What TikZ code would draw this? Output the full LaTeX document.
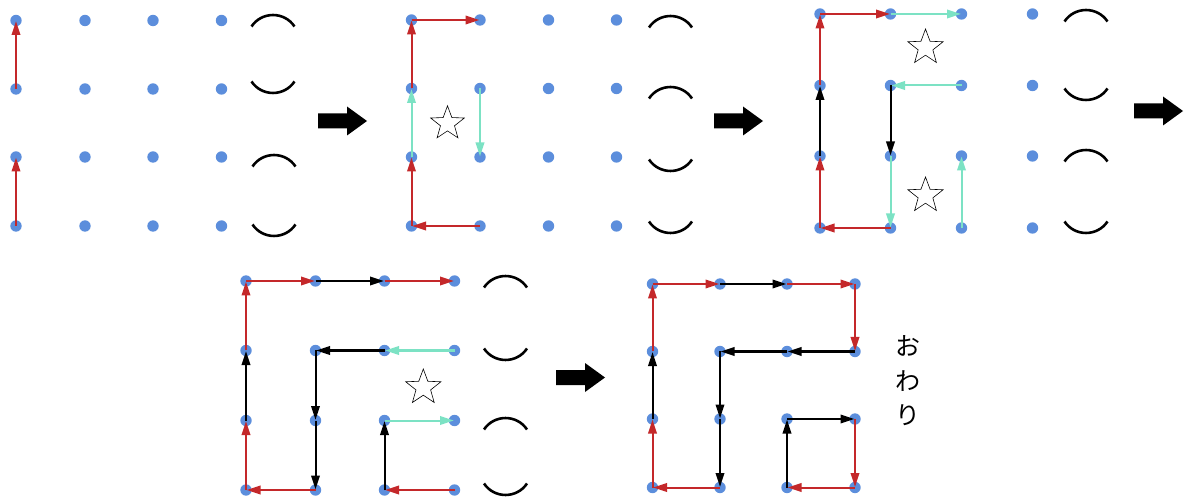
\documentclass[tikz,border=0pt]{standalone}
\usepackage{fontspec}
\newfontfamily\cjk{Noto Sans CJK JP}
\usetikzlibrary{arrows.meta,shapes.geometric}
\definecolor{dotblue}{RGB}{92,142,220}
\definecolor{pathred}{RGB}{196,40,42}
\definecolor{pathteal}{RGB}{124,226,196}
\tikzset{
  dot/.style={circle,fill=dotblue,inner sep=0pt,minimum size=11.4pt},
  con/.style={-{Triangle[length=14pt,width=8.5pt]},line width=2pt,shorten >=0.5pt},
  rc/.style={con,draw=pathred,fill=pathred},
  tc/.style={con,draw=pathteal,fill=pathteal},
  bc/.style={con,draw=black,fill=black},
  arcline/.style={draw=black,line width=2.6pt},
  starmark/.style={star,star points=5,star point ratio=2.4,draw=black,line width=0.6pt,inner sep=0pt},
}
\newcommand\dotgrid[3]{%
  \foreach \xx [count=\ii] in {#2} {%
    \foreach \yy [count=\jj] in {#3} {%
      \node[dot] (#1-\ii-\jj) at (\xx,\yy) {};
    }%
  }%
}
\newcommand\capn[2]{\draw[arcline] ({#1-21.5},{#2}) .. controls ({#1-11.3},{#2-15.3}) and ({#1+11.3},{#2-15.3}) .. ({#1+21.5},{#2});}
\newcommand\cupn[2]{\draw[arcline] ({#1-21.5},{#2}) .. controls ({#1-11.3},{#2+15.3}) and ({#1+11.3},{#2+15.3}) .. ({#1+21.5},{#2});}
\newcommand\bigarrow[2]{\fill[black] ({#1},{#2-7.5}) -- ({#1+29},{#2-7.5}) -- ({#1+29},{#2-14.5}) -- ({#1+49},{#2}) -- ({#1+29},{#2+14.5}) -- ({#1+29},{#2+7.5}) -- ({#1},{#2+7.5}) -- cycle;}
\begin{document}
\begin{tikzpicture}[x=1pt,y=-1pt]
\useasboundingbox (0,0) rectangle (1188,502);
\fill[white] (0,0) rectangle (1188,502);

% grids of dots
\dotgrid{p1}{16,85,153,221.5}{20.5,89,157,226}
\dotgrid{p2}{411.5,480,548.5,616.5}{20,88.5,157,226}
\dotgrid{p3}{820,890.5,961.5,1032.5}{14,85.5,156,228}
\dotgrid{p4}{246,315.5,384.5,454.5}{281,350.5,420.5,490}
\dotgrid{p5}{652.5,720,787,855}{284,351.5,419,487.5}

% arcs
\capn{273}{26.5} \cupn{273}{81.5} \capn{274}{166.5} \cupn{274}{224.5}
\capn{670.5}{27.5} \capn{670.5}{98.5} \cupn{670.5}{159.5} \cupn{670.5}{221.5}
\capn{1086}{21.5} \cupn{1086}{88.5} \capn{1086}{161.5} \cupn{1086}{221.5}
\capn{505.5}{287.5} \cupn{505.5}{348.5} \capn{505.5}{429.5} \cupn{505.5}{483.5}

% stars
\node[starmark,minimum size=35.4pt] (s2) at (447.5,123.5) {};
\node[starmark,minimum size=37pt] (s3a) at (925.5,47.5) {};
\node[starmark,minimum size=37pt] (s3b) at (925.5,195.5) {};
\node[starmark,minimum size=37pt] (s4) at (423.3,387.5) {};

% panel 1
\draw[rc] (p1-1-2.center) -- (p1-1-1.center);
\draw[rc] (p1-1-4.center) -- (p1-1-3.center);

% panel 2
\draw[rc] (p2-2-4.center) -- (p2-1-4.center);
\draw[rc] (p2-1-4.center) -- (p2-1-3.center);
\draw[tc] (p2-1-3.center) -- (p2-1-2.center);
\draw[rc] (p2-1-2.center) -- (p2-1-1.center);
\draw[rc] (p2-1-1.center) -- (p2-2-1.center);
\draw[tc] (p2-2-2.center) -- (p2-2-3.center);

% panel 3
\draw[rc] (p3-2-4.center) -- (p3-1-4.center);
\draw[rc] (p3-1-4.center) -- (p3-1-3.center);
\draw[bc] (p3-1-3.center) -- (p3-1-2.center);
\draw[rc] (p3-1-2.center) -- (p3-1-1.center);
\draw[rc] (p3-1-1.center) -- (p3-2-1.center);
\draw[tc] (p3-2-1.center) -- (p3-3-1.center);
\draw[tc] (p3-3-2.center) -- (p3-2-2.center);
\draw[bc] (p3-2-2.center) -- (p3-2-3.center);
\draw[tc] (p3-2-3.center) -- (p3-2-4.center);
\draw[tc] (p3-3-4.center) -- (p3-3-3.center);

% panel 4
\draw[rc] (p4-1-4.center) -- (p4-1-3.center);
\draw[bc] (p4-1-3.center) -- (p4-1-2.center);
\draw[rc] (p4-1-2.center) -- (p4-1-1.center);
\draw[rc] (p4-1-1.center) -- (p4-2-1.center);
\draw[bc] (p4-2-1.center) -- (p4-3-1.center);
\draw[rc] (p4-3-1.center) -- (p4-4-1.center);
\draw[tc] (p4-4-2.center) -- (p4-3-2.center);
\draw[bc] (p4-3-2.center) -- (p4-2-2.center);
\draw[bc] (p4-2-2.center) -- (p4-2-3.center);
\draw[bc] (p4-2-3.center) -- (p4-2-4.center);
\draw[rc] (p4-2-4.center) -- (p4-1-4.center);
\draw[rc] (p4-4-4.center) -- (p4-3-4.center);
\draw[bc] (p4-3-4.center) -- (p4-3-3.center);
\draw[tc] (p4-3-3.center) -- (p4-4-3.center);

% panel 5
\draw[rc] (p5-1-4.center) -- (p5-1-3.center);
\draw[bc] (p5-1-3.center) -- (p5-1-2.center);
\draw[rc] (p5-1-2.center) -- (p5-1-1.center);
\draw[rc] (p5-1-1.center) -- (p5-2-1.center);
\draw[bc] (p5-2-1.center) -- (p5-3-1.center);
\draw[rc] (p5-3-1.center) -- (p5-4-1.center);
\draw[rc] (p5-4-1.center) -- (p5-4-2.center);
\draw[bc] (p5-4-2.center) -- (p5-3-2.center);
\draw[bc] (p5-3-2.center) -- (p5-2-2.center);
\draw[bc] (p5-2-2.center) -- (p5-2-3.center);
\draw[bc] (p5-2-3.center) -- (p5-2-4.center);
\draw[rc] (p5-2-4.center) -- (p5-1-4.center);
\draw[bc] (p5-3-4.center) -- (p5-3-3.center);
\draw[bc] (p5-3-3.center) -- (p5-4-3.center);
\draw[rc] (p5-4-3.center) -- (p5-4-4.center);
\draw[rc] (p5-4-4.center) -- (p5-3-4.center);

% big arrows
\bigarrow{318}{121}
\bigarrow{714}{121}
\bigarrow{1134}{111}
\bigarrow{556}{377.5}

% end text
\node[align=center,inner sep=0pt,font=\cjk\fontsize{25}{34.5}\selectfont] (owari) at (908,381) {お\\わ\\り};
\end{tikzpicture}
\end{document}
